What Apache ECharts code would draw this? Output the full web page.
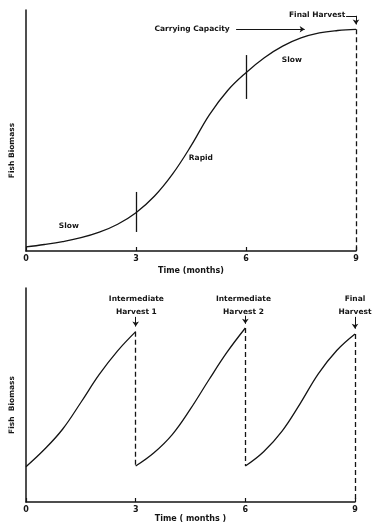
<!DOCTYPE html>
<html>
<head>
<meta charset="utf-8">
<script src="https://cdn.jsdelivr.net/npm/echarts@6/dist/echarts.min.js"></script>
<style>html,body{margin:0;padding:0;background:#fff}#c{width:375px;height:531px}</style>
</head>
<body>
<div id="c"></div>
<script>
// ---- data ----
var monthTicks = [0, 3, 6, 9];
var singleMonths = [0,0.5,1,1.5,2,2.5,3,3.5,4,4.5,5,5.5,6,6.5,7,7.5,8,8.5,9];
var singleBiomass = [1.7,2.7,3.9,5.5,7.8,11.1,15.9,22.7,32.0,43.6,56.5,66.6,74.0,80.2,85.0,88.4,90.5,91.5,92.0];
var seg1Months = [0,0.5,1,1.5,2,2.5,3];
var seg1Biomass = [16.5,24.5,34,46.5,59.5,70.5,79.6];
var seg2Months = [3,3.5,4,4.5,5,5.5,6];
var seg2Biomass = [16.8,23,31.5,43.5,57,70,81.3];
var seg3Months = [6,6.5,7,7.5,8,8.5,9];
var seg3Biomass = [16.8,23.5,33,46,60,70.8,78.5];
var carryingCapacity = 92;

function pairs(xs, ys){ return xs.map(function(x,i){ return [x, ys[i]]; }); }

var ink = '#141414';
var font = 'DejaVu Sans';
var txt = {color: ink, fontFamily: font, fontWeight: 'bold', fontSize: 7.5};

function textPoints(items){
  return {
    symbol: 'circle', symbolSize: 0, silent: true, animation: false,
    label: Object.assign({show: true, position: 'inside', formatter: '{b}', lineHeight: 13}, txt),
    data: items.map(function(it){ return {name: it[0], coord: [it[1], it[2]]}; })
  };
}

var chart = echarts.init(document.getElementById('c'), null, {renderer: 'canvas'});

function xAxisCfg(idx, gap){
  return {
    type: 'value', gridIndex: idx, min: monthTicks[0], max: monthTicks[monthTicks.length-1], interval: 3,
    name: idx === 0 ? 'Time (months)' : 'Time ( months )',
    nameLocation: 'middle', nameGap: gap,
    nameTextStyle: Object.assign({}, txt, {fontSize: 8}),
    axisLine: {lineStyle: {color: ink, width: 1.5}},
    axisTick: {inside: true, length: 4, lineStyle: {color: ink, width: 1.2}},
    axisLabel: Object.assign({}, txt, {fontSize: 8, margin: 4}),
    splitLine: {show: false}
  };
}
function yAxisCfg(idx, pad){
  return {
    type: 'value', gridIndex: idx, min: 0, max: 100,
    name: idx === 0 ? 'Fish Biomass' : 'Fish  Biomass',
    nameLocation: 'middle', nameGap: 10,
    nameTextStyle: Object.assign({}, txt, {padding: pad}),
    axisLine: {show: true, lineStyle: {color: ink, width: 1.5}},
    axisTick: {show: false}, axisLabel: {show: false}, splitLine: {show: false}
  };
}

var solidLine = {color: ink, width: 1.3, type: 'solid'};
var dashedLine = {color: ink, width: 1.3, type: [5, 3]};
var curveStyle = {color: ink, width: 1.3};

chart.setOption({
  animation: false,
  grid: [
    {left: 26, right: 19, top: 10, bottom: 280},
    {left: 26, right: 20, top: 288, bottom: 29}
  ],
  xAxis: [xAxisCfg(0, 16), xAxisCfg(1, 13)],
  yAxis: [yAxisCfg(0, [0, 40, 0, 0]), yAxisCfg(1, [0, 20, 0, 0])],
  series: [
    {
      type: 'line', xAxisIndex: 0, yAxisIndex: 0, smooth: 0.4, showSymbol: false,
      lineStyle: curveStyle,
      data: pairs(singleMonths, singleBiomass),
      markLine: {
        silent: true, animation: false, symbol: ['none', 'none'], symbolSize: 5,
        label: {show: false}, lineStyle: solidLine,
        data: [
          [{coord: [3, 24.5]}, {coord: [3, 7.9]}],
          [{coord: [6, 81.3]}, {coord: [6, 63.1]}],
          [{coord: [9, carryingCapacity], lineStyle: dashedLine}, {coord: [9, 0]}],
          [{coord: [5.73, carryingCapacity], lineStyle: {width: 1}}, {coord: [7.6, carryingCapacity], symbol: 'arrow'}],
          [{coord: [8.73, 97.6], lineStyle: {width: 1}}, {coord: [9, 97.6]}],
          [{coord: [9, 97.6], lineStyle: {width: 1}}, {coord: [9, 94.0], symbol: 'arrow'}]
        ]
      },
      markPoint: textPoints([
        ['Slow', 1.17, 10.4],
        ['Rapid', 4.77, 38.6],
        ['Slow', 7.25, 79.3],
        ['Carrying Capacity', 4.53, carryingCapacity],
        ['Final Harvest', 7.94, 98.0]
      ])
    },
    {
      type: 'line', xAxisIndex: 1, yAxisIndex: 1, smooth: 0.4, showSymbol: false,
      lineStyle: curveStyle,
      data: pairs(seg1Months, seg1Biomass),
      markLine: {
        silent: true, animation: false, symbol: ['none', 'none'], symbolSize: 5,
        label: {show: false}, lineStyle: dashedLine,
        data: [
          [{coord: [3, seg1Biomass[seg1Biomass.length-1]]}, {coord: [3, seg2Biomass[0]]}],
          [{coord: [6, seg2Biomass[seg2Biomass.length-1]]}, {coord: [6, seg3Biomass[0]]}],
          [{coord: [9, seg3Biomass[seg3Biomass.length-1]]}, {coord: [9, 0]}],
          [{coord: [3, 86.5], lineStyle: {type: 'solid', width: 1}}, {coord: [3, 82.0], symbol: 'arrow'}],
          [{coord: [6, 87.0], lineStyle: {type: 'solid', width: 1}}, {coord: [6, 83.3], symbol: 'arrow'}],
          [{coord: [9, 86.5], lineStyle: {type: 'solid', width: 1}}, {coord: [9, 81.0], symbol: 'arrow'}]
        ]
      },
      markPoint: textPoints([
        ['Intermediate\nHarvest 1', 3.02, 91.8],
        ['Intermediate\nHarvest 2', 5.95, 91.8],
        ['Final\nHarvest', 9.0, 91.8]
      ])
    },
    {
      type: 'line', xAxisIndex: 1, yAxisIndex: 1, smooth: 0.4, showSymbol: false,
      lineStyle: curveStyle,
      data: pairs(seg2Months, seg2Biomass)
    },
    {
      type: 'line', xAxisIndex: 1, yAxisIndex: 1, smooth: 0.4, showSymbol: false,
      lineStyle: curveStyle,
      data: pairs(seg3Months, seg3Biomass)
    }
  ]
});
</script>
</body>
</html>
